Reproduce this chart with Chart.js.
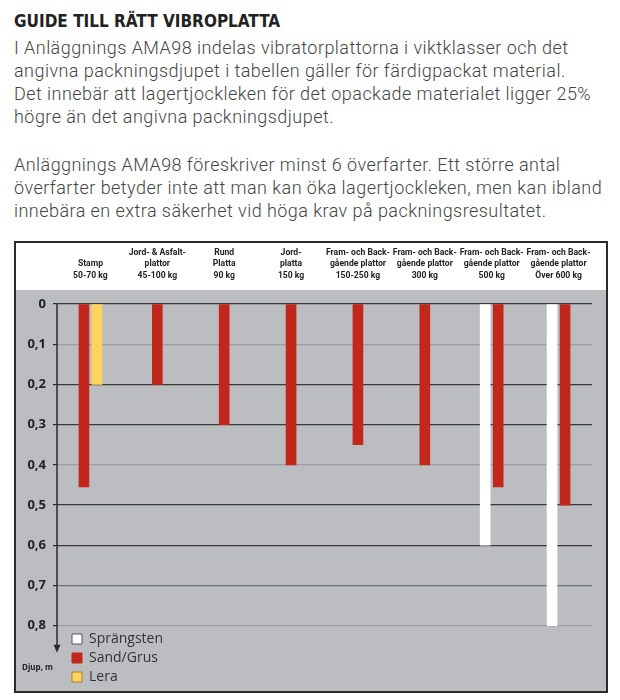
<!DOCTYPE html>
<html>
<head>
<meta charset="utf-8">
<script src="https://cdn.jsdelivr.net/npm/chart.js@4.4.1/dist/chart.umd.min.js"></script>
<style>
  body { margin: 0; background: #fff; width: 620px; height: 700px; position: relative; overflow: hidden; }
  #title { position: absolute; left: 14px; top: 11px; font-family: "DejaVu Sans Condensed", sans-serif; font-weight: bold; font-size: 17px; line-height: 20px; color: #222; white-space: nowrap; }
  .txt { position: absolute; left: 14px; font-family: Roboto, sans-serif; font-weight: 300; font-size: 18px; letter-spacing: 0.45px; line-height: 23px; color: #444; white-space: nowrap; }
  #box { position: absolute; left: 14px; top: 241px; width: 590px; height: 448px; border: 2px solid #2b2b2b; }
  #djup { position: absolute; left: 22px; top: 661px; font: bold 8px "Open Sans", sans-serif; color: #222; }
</style>
</head>
<body>
<div id="title">GUIDE TILL RÄTT VIBROPLATTA</div>
<div class="txt" style="top:36px">I Anläggnings AMA98 indelas vibratorplattorna i viktklasser och det<br>angivna packningsdjupet i tabellen gäller för färdigpackat material.<br>Det innebär att lagertjockleken för det opackade materialet ligger 25%<br>högre än det angivna packningsdjupet.</div>
<div class="txt" style="top:153px">Anläggnings AMA98 föreskriver minst 6 överfarter. Ett större antal<br>överfarter betyder inte att man kan öka lagertjockleken, men kan ibland<br>innebära en extra säkerhet vid höga krav på packningsresultatet.</div>
<div id="box"><canvas id="chart"></canvas></div>
<div id="djup">Djup, m</div>
<script>
// kategorier (vibroplattor) och packningsdjup i meter
const kategorier = [
  ["Stamp", "50-70 kg"],
  ["Jord- & Asfalt-", "plattor", "45-100 kg"],
  ["Rund", "Platta", "90 kg"],
  ["Jord-", "platta", "150 kg"],
  ["Fram- och Back-", "gående plattor", "150-250 kg"],
  ["Fram- och Back-", "gående plattor", "300 kg"],
  ["Fram- och Back-", "gående plattor", "500 kg"],
  ["Fram- och Back-", "gående plattor", "Över 600 kg"]
];
const sprangsten = [null, null, null, null, null, null, 0.6, 0.8];
const sandGrus = [0.455, 0.2, 0.3, 0.4, 0.35, 0.4, 0.455, 0.5];
const lera = [0.2, null, null, null, null, null, null, null];
const djupTicks = [0, 0.1, 0.2, 0.3, 0.4, 0.5, 0.6, 0.7, 0.8];

// stil
const gridFarger = ["#3a3a3a", "#9c9da0", "#3a3a3a", "#3a3a3a", "#9c9da0", "#3a3a3a", "#3a3a3a", "#707072", "#9c9da0"];
const legendKanter = ["#555555", "#c1271b", "#a8802e"];

const bakgrund = {
  id: "bakgrund",
  beforeDraw(chart) {
    const { ctx, chartArea, width, height } = chart;
    ctx.save();
    ctx.fillStyle = "#ffffff";
    ctx.fillRect(0, 0, width, height);
    ctx.fillStyle = "#bcbdc0";
    ctx.fillRect(0, chartArea.top - 14, width, height);
    ctx.restore();
  }
};

// y-axelns linje med pil nedåt
const pil = {
  id: "pil",
  afterDraw(chart) {
    const { ctx, chartArea } = chart;
    const y = chart.scales.y;
    const x = chartArea.left;
    const top = y.getPixelForValue(0);
    const spets = y.getPixelForValue(0.867);
    ctx.save();
    ctx.strokeStyle = "#2b2b2b";
    ctx.lineWidth = 1.5;
    ctx.beginPath();
    ctx.moveTo(x, top);
    ctx.lineTo(x, spets - 6);
    ctx.stroke();
    ctx.fillStyle = "#2b2b2b";
    ctx.beginPath();
    ctx.moveTo(x - 3.5, spets - 8);
    ctx.lineTo(x + 3.5, spets - 8);
    ctx.lineTo(x, spets);
    ctx.closePath();
    ctx.fill();
    ctx.restore();
  }
};

// legenden i nedre vänstra hörnet av diagrammet
const legendPlats = {
  id: "legendPlats",
  afterLayout(chart) {
    const l = chart.legend;
    const a = chart.chartArea;
    l.top = a.top;
    l.bottom = a.bottom + 3;
    l.left = a.left + 10;
    l.right = l.left + l.width;
  }
};

new Chart(document.getElementById("chart"), {
  type: "bar",
  data: {
    labels: kategorier,
    datasets: [
      { label: "Sprängsten", data: sprangsten, backgroundColor: "#ffffff" },
      { label: "Sand/Grus", data: sandGrus, backgroundColor: "#c1271b" },
      { label: "Lera", data: lera, backgroundColor: "#fdd45b" }
    ]
  },
  options: {
    responsive: true,
    maintainAspectRatio: false,
    animation: false,
    layout: { padding: { left: 0, right: 14, top: 0, bottom: 5 } },
    datasets: {
      bar: { skipNull: true, barThickness: 13, maxBarThickness: 10, borderWidth: 0 }
    },
    scales: {
      x: {
        position: "top",
        grid: { display: false, drawTicks: false },
        border: { display: false },
        ticks: {
          autoSkip: false,
          maxRotation: 0,
          padding: 23,
          color: "#222",
          font: { family: "Roboto", size: 8.6, weight: "bold", lineHeight: 1.3 }
        },
        afterFit(s) { s.height = 61; s.paddingLeft = 0; s.paddingRight = 0; }
      },
      y: {
        reverse: true,
        min: 0,
        max: 0.95,
        afterBuildTicks(s) { s.ticks = djupTicks.map(v => ({ value: v })); },
        grid: {
          color: ctx => gridFarger[ctx.index] || "#9c9da0",
          lineWidth: 1.2,
          tickLength: 4,
          tickColor: "#2b2b2b"
        },
        border: { display: false },
        ticks: {
          padding: 7,
          color: "#222",
          font: { family: "Open Sans", size: 13, weight: "bold" },
          callback: v => (v === 0 ? "0" : v.toFixed(1).replace(".", ","))
        },
        afterFit(s) { s.width = 41; s.paddingTop = 0; s.paddingBottom = 0; }
      }
    },
    plugins: {
      legend: {
        position: "chartArea",
        align: "end",
        labels: {
          boxWidth: 10,
          boxHeight: 10,
          padding: 5,
          color: "#333",
          font: { family: "Open Sans", size: 14, lineHeight: 1 },
          generateLabels(chart) {
            const items = Chart.defaults.plugins.legend.labels.generateLabels(chart);
            items.forEach((it, i) => { it.strokeStyle = legendKanter[i]; it.lineWidth = 1; });
            return items;
          }
        }
      },
      tooltip: { enabled: false }
    }
  },
  plugins: [bakgrund, pil, legendPlats]
});
</script>
</body>
</html>
